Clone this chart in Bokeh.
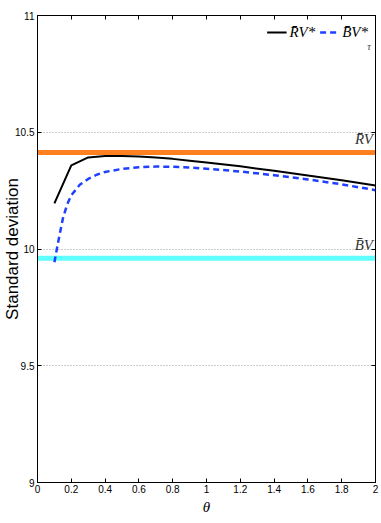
from bokeh.plotting import figure
from bokeh.models import (LinearAxis, FixedTicker, Span, Label, Legend, LegendItem, Range1d)
from bokeh.embed import file_html
from bokeh.resources import INLINE

# ---- data ----
theta_rv = [0.1, 0.2, 0.3, 0.4, 0.5, 0.6, 0.7, 0.8, 0.9, 1.0, 1.2, 1.4, 1.6, 1.8, 2.0]
rv_star = [10.195, 10.358, 10.392, 10.398, 10.398, 10.396, 10.392, 10.386, 10.378, 10.370,
           10.354, 10.335, 10.315, 10.294, 10.272]
theta_bv = [0.1, 0.125, 0.15, 0.175, 0.2, 0.25, 0.3, 0.35, 0.4, 0.5, 0.6, 0.7, 0.8, 0.9, 1.0,
            1.2, 1.4, 1.6, 1.8, 2.0]
bv_star = [9.943, 10.04, 10.13, 10.19, 10.23, 10.275, 10.30, 10.318, 10.330, 10.343, 10.350,
           10.353, 10.352, 10.349, 10.344, 10.332, 10.316, 10.298, 10.277, 10.252]
rv_bar = 10.413
bv_bar = 9.96
x_ticks = [0, 0.2, 0.4, 0.6, 0.8, 1, 1.2, 1.4, 1.6, 1.8, 2]
x_tick_labels = ["0", "0.2", "0.4", "0.6", "0.8", "1", "1.2", "1.4", "1.6", "1.8", "2"]
y_ticks = [9, 9.5, 10, 10.5, 11]
y_tick_labels = ["9", "9.5", "10", "10.5", "11"]
grid_ticks = [9.5, 10, 10.5]

TICK_FONT = "Liberation Sans"
SERIF = "Liberation Serif"

p = figure(width=381, height=523, output_backend="svg", toolbar_location=None,
           x_range=Range1d(0, 2), y_range=Range1d(9, 11),
           min_border_left=36, min_border_right=6, min_border_top=15, min_border_bottom=41)
p.outline_line_color = "black"
p.outline_line_width = 1
p.background_fill_color = "white"
p.border_fill_color = "white"


def style_axis(ax, ticks, labels, show_labels=True):
    ax.ticker = FixedTicker(ticks=ticks)
    if show_labels:
        ax.major_label_overrides = {t: l for t, l in zip(ticks, labels)}
    else:
        ax.major_label_overrides = {t: "" for t in ticks}
    ax.major_tick_in = 4
    ax.major_tick_out = 0
    ax.minor_tick_in = 0
    ax.minor_tick_out = 0
    ax.axis_line_color = "black"
    ax.major_tick_line_color = "black"
    ax.major_label_text_font = TICK_FONT
    ax.major_label_text_font_size = "10px"
    ax.major_label_text_color = "black"
    ax.major_label_standoff = 3 if show_labels else 0


style_axis(p.xaxis[0], x_ticks, x_tick_labels)
style_axis(p.yaxis[0], y_ticks, y_tick_labels)
p.xaxis[0].major_label_standoff = 2
p.xaxis[0].axis_label = "θ"
p.xaxis[0].axis_label_text_font = SERIF
p.xaxis[0].axis_label_text_font_style = "italic"
p.xaxis[0].axis_label_text_font_size = "15px"
p.xaxis[0].axis_label_text_color = "black"
p.xaxis[0].axis_label_standoff = 3

p.yaxis[0].axis_label = "Standard deviation"
p.yaxis[0].axis_label_text_font = "Liberation Sans"
p.yaxis[0].axis_label_text_font_style = "normal"
p.yaxis[0].axis_label_text_font_size = "17px"
p.yaxis[0].axis_label_text_color = "black"
p.yaxis[0].axis_label_standoff = -10

top = LinearAxis()
style_axis(top, x_ticks, x_tick_labels, show_labels=False)
p.add_layout(top, "above")
right = LinearAxis()
style_axis(right, y_ticks, y_tick_labels, show_labels=False)
p.add_layout(right, "right")

p.xgrid.visible = False
p.ygrid.ticker = FixedTicker(ticks=grid_ticks)
p.ygrid.grid_line_color = "#9a9a9a"
p.ygrid.grid_line_dash = "1 2"
p.ygrid.grid_line_width = 1

# reference horizontal lines
p.add_layout(Span(location=rv_bar, dimension="width", line_color="#ff8020", line_width=5, level="underlay"))
p.add_layout(Span(location=bv_bar, dimension="width", line_color="#60ffff", line_width=5, level="underlay"))

r1 = p.line(theta_rv, rv_star, line_color="black", line_width=2)
r2 = p.line(theta_bv, bv_star, line_color="#2040ff", line_width=2.5, line_dash="6 4")

legend = Legend(items=[LegendItem(label="R\u0304V*", renderers=[r1]),
                       LegendItem(label="B\u0304V*", renderers=[r2])],
                location="top_right", orientation="horizontal")
legend.border_line_alpha = 0
legend.background_fill_alpha = 0
legend.label_text_font = SERIF
legend.label_text_font_style = "italic"
legend.label_text_font_size = "15px"
legend.label_text_color = "black"
legend.glyph_width = 20
legend.label_standoff = 3
legend.spacing = 4
legend.padding = 0
legend.margin = 7
p.add_layout(legend)

p.add_layout(Label(x=1.962, y=10.867, text="τ", text_font=SERIF, text_font_style="italic",
                   text_font_size="10px", text_align="center", text_baseline="middle"))

# side labels
p.add_layout(Label(x=1.985, y=10.435, text="R\u0304V", text_font=SERIF, text_font_style="italic",
                   text_font_size="15px", text_align="right", text_baseline="bottom", text_color="#333333"))
p.add_layout(Label(x=1.985, y=9.985, text="B\u0304V", text_font=SERIF, text_font_style="italic",
                   text_font_size="15px", text_align="right", text_baseline="bottom", text_color="#333333"))

open("out.html", "w").write(file_html(p, INLINE))
